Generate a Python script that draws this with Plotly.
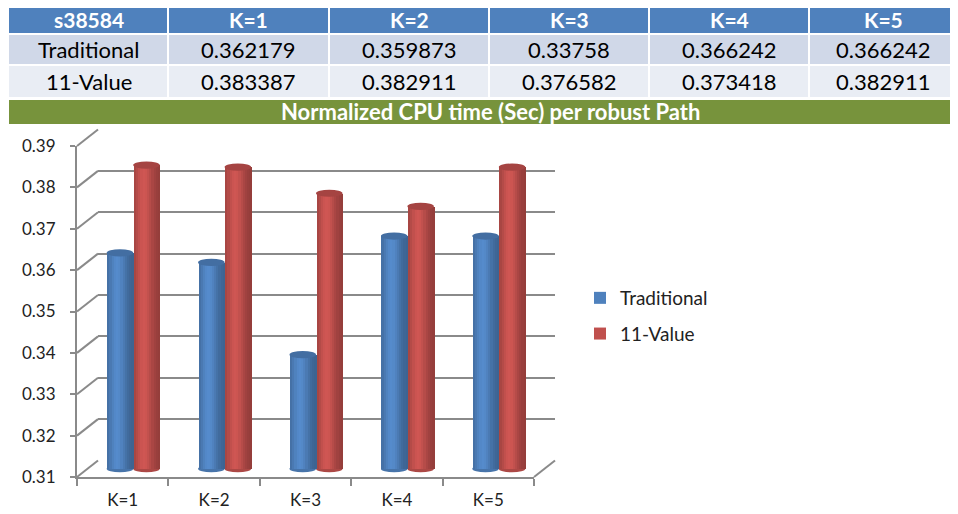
import plotly.graph_objects as go
import math

# ---------------- data ----------------
circuit = "s38584"
categories = ["K=1", "K=2", "K=3", "K=4", "K=5"]
series_names = ["Traditional", "11-Value"]
traditional = [0.362179, 0.359873, 0.33758, 0.366242, 0.366242]
eleven_value = [0.383387, 0.382911, 0.376582, 0.373418, 0.382911]
y_ticks = [0.31, 0.32, 0.33, 0.34, 0.35, 0.36, 0.37, 0.38, 0.39]
banner_title = "Normalized CPU time (Sec) per robust Path"

# ---------------- layout helpers (page pixels; body has 8px margin) ----------------
W, H = 958, 514
OFF = 8
FONT = "Lato"
def fx(p):
    return (p - OFF) / W
def fy(p):
    return 1 - (p - OFF) / H

Y0, Y1 = 0.31, 0.39
FX0, FX1 = 77, 534          # front plane x extent
FY_LO, FY_HI = 477, 146     # front plane y of Y0 / Y1
DX, DY = 21, -16.5          # depth offset front -> back
def front_y(v):
    return FY_LO - (v - Y0) / (Y1 - Y0) * (FY_LO - FY_HI)

GRID = "#8a8a8a"
BLUE = (79, 129, 189)
RED = (192, 80, 77)

def shade(rgb, f):
    return "rgb(%d,%d,%d)" % tuple(max(0, min(255, int(c * f))) for c in rgb)

fig = go.Figure()
shapes = []
annotations = []

# ---------- table (cells as shapes, text as annotations) ----------
col_edges = [9, 168, 329, 489, 649, 809, 970]
row_edges = [(8, 33), (35, 64), (66, 97)]
header_vals = [circuit] + categories
body_rows = [[series_names[0]] + [str(v) for v in traditional],
             [series_names[1]] + [str(v) for v in eleven_value]]
row_fill = ["#4F81BD", "#D0D8E8", "#E9EDF4"]
for r, (top, bot) in enumerate(row_edges):
    texts = header_vals if r == 0 else body_rows[r - 1]
    for c in range(len(col_edges) - 1):
        x0 = col_edges[c] + (0 if c == 0 else 1)
        x1 = col_edges[c + 1] - 1
        shapes.append(dict(type="rect", xref="paper", yref="paper", layer="below",
                           x0=fx(x0), x1=fx(x1), y0=fy(bot), y1=fy(top),
                           fillcolor=row_fill[r], line=dict(width=0)))
        right = min(col_edges[c + 1], 958)
        cx = (col_edges[c] + right) / 2
        cy = (top + bot) / 2 if r else 19
        annotations.append(dict(
            text=("<b>%s</b>" % texts[c]) if r == 0 else texts[c],
            xref="paper", yref="paper", x=fx(cx), y=fy(cy), showarrow=False,
            xanchor="center", yanchor="middle",
            font=dict(family=FONT, size=21 if r == 0 else 22,
                      color="white" if r == 0 else "black")))

# green banner
shapes.append(dict(type="rect", xref="paper", yref="paper", layer="below",
                   x0=fx(9), x1=1.0, y0=fy(124), y1=fy(100),
                   fillcolor="#77933C", line=dict(width=0)))
annotations.append(dict(text="<b>%s</b>" % banner_title, xref="paper", yref="paper",
                        x=fx(490), y=fy(112), showarrow=False, xanchor="center", yanchor="middle",
                        font=dict(family=FONT, size=22, color="white")))

# ---------- back wall (xy) ----------
fig.add_trace(go.Scatter(x=[0.5], y=[Y0], mode="markers", marker=dict(opacity=0),
                         hoverinfo="skip", showlegend=False, xaxis="x", yaxis="y"))
# ---------- front axes (x2y2) ----------
fig.add_trace(go.Scatter(x=categories, y=traditional, mode="markers", marker=dict(opacity=0),
                         hoverinfo="skip", showlegend=False, xaxis="x2", yaxis="y2"))

# ---------- bars (x3y3) ----------
BAR_W = 0.29
N_STRIP = 12
def add_cyl(values, name, rgb, side):
    left = -BAR_W if side == 0 else 0.0
    fig.add_trace(go.Bar(x=categories, y=[v - Y0 for v in values], base=Y0, name=name,
                         width=BAR_W, offset=left, marker=dict(color=shade(rgb, 1.0), line=dict(width=0)),
                         xaxis="x3", yaxis="y3", legendgroup=name, hoverinfo="skip"))
    sw = BAR_W / N_STRIP
    for k in range(N_STRIP):
        u = (k + 0.5) / N_STRIP
        f = 0.76 + 0.32 * math.exp(-((u - 0.38) / 0.34) ** 2)
        fig.add_trace(go.Bar(x=categories, y=[v - Y0 for v in values], base=Y0,
                             width=sw * 1.05, offset=left + k * sw,
                             marker=dict(color=shade(rgb, f), line=dict(width=0)),
                             xaxis="x3", yaxis="y3", showlegend=False, legendgroup=name,
                             hoverinfo="skip"))

add_cyl(traditional, series_names[0], BLUE, 0)
add_cyl(eleven_value, series_names[1], RED, 1)

# bar axis scale: mid-depth plane
MID_X0, MID_X1 = FX0 + DX / 2, FX1 + DX / 2
MID_LO, MID_HI = FY_LO + DY / 2, FY_HI + DY / 2
pxu = (MID_LO - MID_HI) / (Y1 - Y0)
BAR_YMIN = Y0 - 8 / pxu
CAP_H = 3.6 / pxu

for i in range(len(categories)):
    for side, (vals, rgb) in enumerate([(traditional, BLUE), (eleven_value, RED)]):
        left = i - BAR_W if side == 0 else i
        shapes.append(dict(type="circle", xref="x3", yref="y3", layer="below",
                           x0=left, x1=left + BAR_W, y0=Y0 - CAP_H, y1=Y0 + CAP_H,
                           fillcolor=shade(rgb, 0.9), line=dict(width=0)))
        shapes.append(dict(type="circle", xref="x3", yref="y3", layer="above",
                           x0=left, x1=left + BAR_W, y0=vals[i] - CAP_H, y1=vals[i] + CAP_H,
                           fillcolor=shade(rgb, 0.86), line=dict(width=0)))

# depth diagonals at each y tick
for t in y_ticks:
    shapes.append(dict(type="line", xref="paper", yref="paper", layer="below",
                       x0=fx(FX0), y0=fy(front_y(t)), x1=fx(FX0 + DX), y1=fy(front_y(t) + DY),
                       line=dict(color=GRID, width=2)))
shapes.append(dict(type="line", xref="paper", yref="paper", layer="below",
                   x0=fx(FX1), y0=fy(FY_LO), x1=fx(FX1 + DX), y1=fy(FY_LO + DY),
                   line=dict(color=GRID, width=2)))

fig.update_layout(
    width=W, height=H, margin=dict(l=0, r=0, t=0, b=0, autoexpand=False),
    paper_bgcolor="white", plot_bgcolor="rgba(0,0,0,0)",
    barmode="overlay", bargap=0,
    font=dict(family=FONT, color="#222"),
    shapes=shapes, annotations=annotations,
    showlegend=True,
    legend=dict(x=fx(580), y=fy(279), xanchor="left", yanchor="top",
                font=dict(family=FONT, size=19, color="#222"),
                traceorder="grouped", tracegroupgap=8, bgcolor="rgba(0,0,0,0)"),
    xaxis=dict(domain=[fx(FX0 + DX), fx(FX1 + DX)], range=[0, 1], visible=False, anchor="y"),
    yaxis=dict(domain=[fy(FY_LO + DY), fy(FY_HI + DY)], range=[Y0, Y1], dtick=0.01,
               showgrid=True, gridcolor=GRID, gridwidth=2, showticklabels=False,
               zeroline=False, showline=False, ticks="", anchor="x"),
    xaxis2=dict(domain=[fx(FX0), fx(FX1)], anchor="y2", type="category",
                categoryorder="array", categoryarray=categories, range=[-0.5, 4.5],
                showline=True, linecolor=GRID, linewidth=2, showgrid=False,
                ticks="outside", tickson="boundaries", ticklen=7, tickcolor=GRID, tickwidth=2,
                tickfont=dict(family=FONT, size=17, color="#222"), ticklabelstandoff=7),
    yaxis2=dict(domain=[fy(FY_LO), fy(FY_HI)], anchor="x2", range=[Y0, Y1],
                tickvals=y_ticks, tickformat=".2f",
                showline=True, linecolor=GRID, linewidth=2, showgrid=False, zeroline=False,
                ticks="outside", ticklen=5, tickcolor=GRID, tickwidth=2,
                tickfont=dict(family=FONT, size=17, color="#222"), ticklabelstandoff=11),
    xaxis3=dict(domain=[fx(MID_X0), fx(MID_X1)], anchor="y3", type="category",
                categoryorder="array", categoryarray=categories, range=[-0.5, 4.5], visible=False),
    yaxis3=dict(domain=[fy(MID_LO + 8), fy(MID_HI)], anchor="x3", range=[BAR_YMIN, Y1],
                visible=False),
)

fig.write_html("out.html")
